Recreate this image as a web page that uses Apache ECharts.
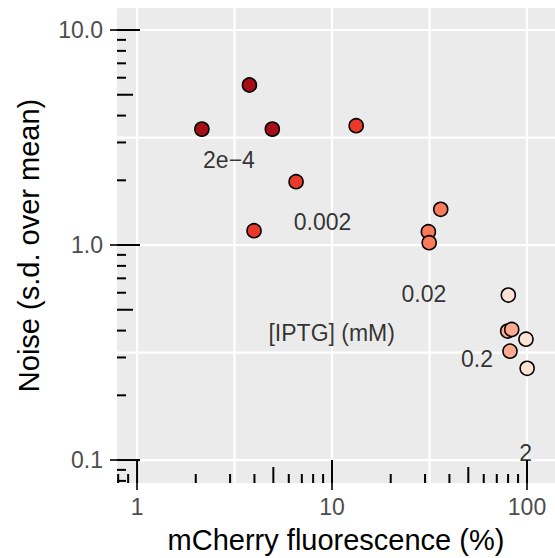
<!DOCTYPE html>
<html><head><meta charset="utf-8">
<script src="https://cdn.jsdelivr.net/npm/echarts@6/dist/echarts.min.js"></script>
<style>html,body{margin:0;padding:0;background:#fff}#c{width:555px;height:558px}</style>
</head><body><div id="c"></div>
<script>
// ---- data ----
const iptgLevels = ['2e\u22124', '0.002', '0.02', '0.2', '2'];
const levelColors = ['#A50F15', '#E8392A', '#FB7A5A', '#FCAB90', '#FEE2D6'];
const fluor_2e4 = [2.15, 3.77, 4.94];
const noise_2e4 = [3.46, 5.55, 3.46];
const fluor_0002 = [13.3, 6.54, 3.98];
const noise_0002 = [3.59, 1.97, 1.166];
const fluor_002 = [36.1, 31.2, 31.5];
const noise_002 = [1.466, 1.153, 1.025];
const fluor_02 = [79.6, 83.5, 81.8];
const noise_02 = [0.398, 0.405, 0.321];
const fluor_2 = [80.2, 98.8, 100.2];
const noise_2 = [0.585, 0.365, 0.267];
const labelX = [2.96, 8.94, 29.6, 55.4, 98.3];
const labelY = [2.49, 1.28, 0.592, 0.295, 0.108];
const legendTitle = '[IPTG] (mM)';
const legendTitleX = 9.96, legendTitleY = 0.39;
const xTickValues = [1, 10, 100];
const xTickLabels = ['1', '10', '100'];
const yTickValues = [0.1, 1, 10];
const yTickLabels = ['0.1', '1.0', '10.0'];
const xGridValues = [1, 3.1623, 10, 31.623, 100];
const yGridValues = [0.1, 0.31623, 1, 3.1623, 10];
const xLogTicks = [0.8, 0.9, 1, 2, 3, 4, 5, 6, 7, 8, 9, 10, 20, 30, 40, 50, 60, 70, 80, 90, 100];
const yLogTicks = [0.08, 0.09, 0.1, 0.2, 0.3, 0.4, 0.5, 0.6, 0.7, 0.8, 0.9, 1, 2, 3, 4, 5, 6, 7, 8, 9, 10];
const xTitle = 'mCherry fluorescence (%)';
const yTitle = 'Noise (s.d. over mean)';

const FONT = '"Liberation Sans", Arial, Helvetica, sans-serif';
const groups = [[fluor_2e4, noise_2e4], [fluor_0002, noise_0002], [fluor_002, noise_002], [fluor_02, noise_02], [fluor_2, noise_2]];

function nearestLabel(v, vals, labs) {
  let best = 0;
  for (let i = 1; i < vals.length; i++) if (Math.abs(Math.log10(vals[i]) - Math.log10(v)) < Math.abs(Math.log10(vals[best]) - Math.log10(v))) best = i;
  return labs[best];
}
function tickLen(v) {
  const m = Math.round(v / Math.pow(10, Math.floor(Math.log10(v) + 1e-9)));
  return m === 1 || m === 10 ? 23 : (m === 5 ? 16 : 9);
}

const series = [];
// gridlines
series.push({
  type: 'custom', silent: true, z: 1, animation: false,
  data: xGridValues.map(v => [v, 1]),
  renderItem: (params, api) => {
    const cs = params.coordSys; const p = api.coord([api.value(0), api.value(1)]);
    return { type: 'line', shape: { x1: p[0], y1: cs.y, x2: p[0], y2: cs.y + cs.height }, style: { stroke: '#FFFFFF', lineWidth: 2.2 } };
  }
});
series.push({
  type: 'custom', silent: true, z: 1, animation: false,
  data: yGridValues.map(v => [1, v]),
  renderItem: (params, api) => {
    const cs = params.coordSys; const p = api.coord([api.value(0), api.value(1)]);
    return { type: 'line', shape: { x1: cs.x, y1: p[1], x2: cs.x + cs.width, y2: p[1] }, style: { stroke: '#FFFFFF', lineWidth: 2.2 } };
  }
});
// log ticks
series.push({
  type: 'custom', silent: true, z: 2, animation: false,
  data: xLogTicks.map(v => [v, 1]),
  renderItem: (params, api) => {
    const cs = params.coordSys; const v = api.value(0); const p = api.coord([v, 1]);
    const yb = cs.y + cs.height;
    return { type: 'line', shape: { x1: p[0], y1: yb, x2: p[0], y2: yb - tickLen(v) }, style: { stroke: '#000', lineWidth: 2 } };
  }
});
series.push({
  type: 'custom', silent: true, z: 2, animation: false,
  data: yLogTicks.map(v => [1, v]),
  renderItem: (params, api) => {
    const cs = params.coordSys; const v = api.value(1); const p = api.coord([1, v]);
    return { type: 'line', shape: { x1: cs.x, y1: p[1], x2: cs.x + tickLen(v), y2: p[1] }, style: { stroke: '#000', lineWidth: 2 } };
  }
});
// points
groups.forEach((g, i) => {
  series.push({
    type: 'scatter', name: iptgLevels[i], z: 5, animation: false,
    symbol: 'circle', symbolSize: 14,
    itemStyle: { color: levelColors[i], borderColor: '#000', borderWidth: 1.6, opacity: 1 },
    data: g[0].map((x, k) => [x, g[1][k]])
  });
});
// annotations
const annData = labelX.map((x, i) => ({ name: iptgLevels[i], value: [x, labelY[i]] }));
annData.push({ name: legendTitle, value: [legendTitleX, legendTitleY] });
series.push({
  type: 'scatter', z: 6, silent: true, animation: false,
  symbolSize: 1, itemStyle: { color: 'rgba(0,0,0,0)', borderWidth: 0 },
  label: { show: true, position: 'inside', formatter: p => p.name, color: '#000', fontSize: 23, fontFamily: FONT },
  data: annData
});

const chart = echarts.init(document.getElementById('c'), null, { renderer: 'svg', width: 555, height: 558 });
chart.setOption({
  backgroundColor: '#FFFFFF',
  animation: false,
  grid: { left: 117, right: 0, top: 8, bottom: 75, show: true, backgroundColor: '#EBEBEB', borderWidth: 0, containLabel: false, outerBoundsMode: 'none' },
  xAxis: {
    type: 'log', logBase: 10, min: 0.789, max: 139.2,
    name: xTitle, nameLocation: 'middle', nameGap: 42,
    nameTextStyle: { fontSize: 29, color: '#000', fontFamily: FONT },
    axisLine: { show: false }, splitLine: { show: false }, minorSplitLine: { show: false },
    axisTick: { show: true, customValues: xTickValues, length: 7, lineStyle: { color: '#333', width: 2 } },
    axisLabel: { customValues: xTickValues, fontSize: 23, color: '#4D4D4D', margin: 12, fontFamily: FONT,
      formatter: v => nearestLabel(v, xTickValues, xTickLabels) }
  },
  yAxis: {
    type: 'log', logBase: 10, min: 0.0782, max: 12.66,
    name: yTitle, nameLocation: 'middle', nameGap: 74, nameRotate: 90,
    nameTextStyle: { fontSize: 29, color: '#000', fontFamily: FONT },
    axisLine: { show: false }, splitLine: { show: false }, minorSplitLine: { show: false },
    axisTick: { show: true, customValues: yTickValues, length: 7, lineStyle: { color: '#333', width: 2 } },
    axisLabel: { customValues: yTickValues, fontSize: 23, color: '#4D4D4D', margin: 14, fontFamily: FONT,
      formatter: v => nearestLabel(v, yTickValues, yTickLabels) }
  },
  series: series
});
</script>
</body></html>
